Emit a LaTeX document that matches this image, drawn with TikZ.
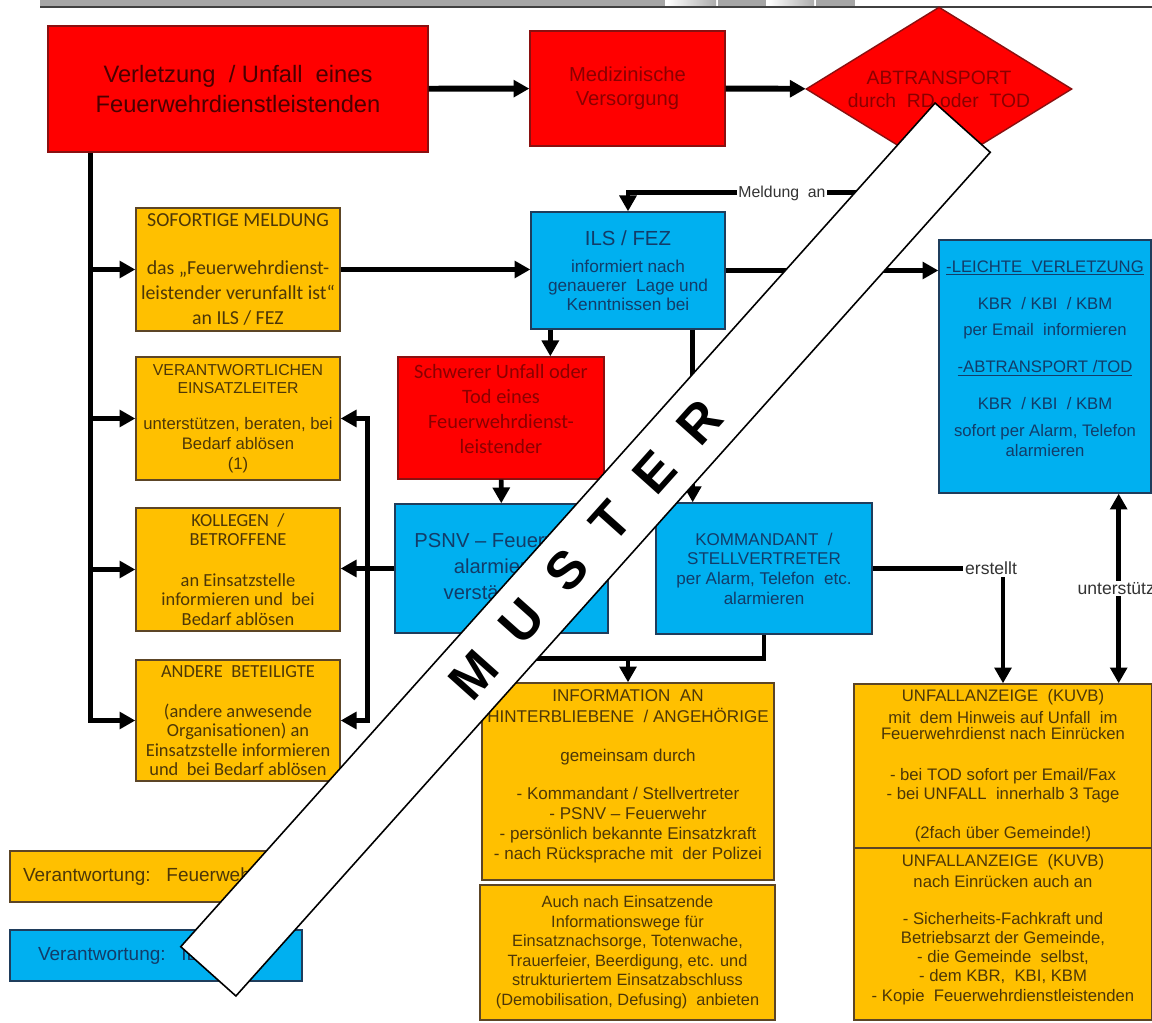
\documentclass[tikz,border=0pt]{standalone}
\usepackage{fontspec}
\setmainfont{Liberation Sans}
\newfontfamily\calibri{Carlito}
\usetikzlibrary{arrows.meta,shapes.geometric,calc}

\definecolor{rot}{HTML}{FF0000}
\definecolor{rotrand}{HTML}{8A1010}
\definecolor{rottext}{HTML}{4A0000}
\definecolor{rotschrift}{HTML}{8A0000}
\definecolor{gelb}{HTML}{FFC000}
\definecolor{gelbrand}{HTML}{5C4526}
\definecolor{gelbtext}{HTML}{4D3708}
\definecolor{blau}{HTML}{00B0F0}
\definecolor{blaurand}{HTML}{1F3D5C}
\definecolor{blautext}{HTML}{123C69}

\tikzset{
  rotbox/.style={rectangle, fill=rot, draw=rotrand, line width=0.8pt, text=rottext, align=center, inner sep=0pt},
  gelbbox/.style={rectangle, fill=gelb, draw=gelbrand, line width=0.8pt, text=gelbtext, align=center, inner sep=0pt},
  blaubox/.style={rectangle, fill=blau, draw=blaurand, line width=0.8pt, text=blautext, align=center, inner sep=0pt},
  linie/.style={line width=2.6pt},
  pfeil/.style={linie, -{Triangle[length=9pt,width=9.5pt]}},
  dpfeil/.style={linie, {Triangle[length=9pt,width=9.5pt]}-{Triangle[length=9pt,width=9.5pt]}},
  beschriftung/.style={fill=white, inner sep=1pt, text=black!80, font=\fontsize{10}{12}\selectfont},
}

\begin{document}
\begin{tikzpicture}[x=0.02cm, y=-0.02cm]

	\useasboundingbox (0,0) rectangle (1152,1023);
	\fill[white] (0,0) rectangle (1152,1023);

	% Kopfleiste
	\fill[gray!70] (40,0) rectangle (665,7);
	\shade[left color=white, right color=gray!65] (667,0) rectangle (716,7);
	\fill[gray!70] (718,0) rectangle (766,7);
	\shade[left color=white, right color=gray!65] (768,0) rectangle (814,7);
	\fill[gray!70] (816,0) rectangle (855,7);
	\draw[black!75, line width=0.6pt] (40,7) -- (1152,7);

	% obere Reihe
	\node[rotbox, minimum width=7.6cm, minimum height=2.52cm, font=\fontsize{13.5}{17}\selectfont] (unfall) at (238,89)
		{Verletzung \ / Unfall \ eines\\Feuerwehrdienstleistenden};
	\node[rotbox, text=rotschrift, minimum width=3.9cm, minimum height=2.3cm, font=\fontsize{11.5}{13.6}\selectfont] (medizin) at (627.5,88.5)
		{Medizinische\\Versorgung};
	\node[rotbox, diamond, aspect=1.62, text=rotschrift, minimum width=5.32cm, minimum height=3.28cm, font=\fontsize{11}{13}\selectfont] (abtransport) at (939,89)
		{ABTRANSPORT\\durch \ RD oder \ TOD};

	% linke Spalte
	\node[gelbbox, minimum width=4.08cm, minimum height=2.46cm, font=\calibri\fontsize{11.3}{14.2}\selectfont] (sofort) at (238,269.5)
		{SOFORTIGE MELDUNG\\[13pt]das „Feuerwehrdienst-\\leistender verunfallt ist“\\an ILS / FEZ};
	\node[gelbbox, minimum width=4.08cm, minimum height=2.46cm, font=\fontsize{9.5}{11.3}\selectfont] (verantw) at (238,418.5)
		{{\fontsize{9}{10}\selectfont VERANTWORTLICHEN}\\[-1pt]{\fontsize{9}{10}\selectfont EINSATZLEITER}\\[9pt]unterstützen, beraten, bei\\Bedarf ablösen\\(1)};
	\node[gelbbox, minimum width=4.08cm, minimum height=2.46cm, font=\calibri\fontsize{10.5}{11}\selectfont] (kollegen) at (238,569.5)
		{KOLLEGEN \ /\\BETROFFENE\\[12pt]an Einsatzstelle\\informieren und \ bei\\Bedarf ablösen};
	\node[gelbbox, minimum width=4.08cm, minimum height=2.42cm, font=\calibri\fontsize{10.5}{11}\selectfont] (andere) at (238,720.5)
		{ANDERE \ BETEILIGTE\\[12pt](andere anwesende\\Organisationen) an\\Einsatzstelle informieren\\und \ bei Bedarf ablösen};

	% Mitte
	\node[blaubox, minimum width=3.88cm, minimum height=2.34cm, font=\fontsize{9.8}{10.8}\selectfont] (ils) at (628,270.5)
		{{\fontsize{11.6}{13}\selectfont ILS / FEZ}\\[4.5pt]informiert nach\\genauerer \ Lage und\\Kenntnissen bei};
	\node[rotbox, text=rotschrift, minimum width=4.12cm, minimum height=2.44cm, font=\calibri\fontsize{11.6}{14.2}\selectfont] (schwer) at (501,418)
		{Schwerer Unfall oder\\Tod eines\\Feuerwehrdienst-\\leistender\\[-4pt]\mbox{}};
	\node[blaubox, minimum width=4.26cm, minimum height=2.58cm, font=\fontsize{11.5}{14.7}\selectfont] (psnv) at (501.5,568.5)
		{PSNV – Feuerwehr\\alarmieren\\verständigen};
	\node[blaubox, minimum width=4.32cm, minimum height=2.62cm, font=\fontsize{9.7}{11.2}\selectfont] (komm) at (764,568.5)
		{KOMMANDANT \ /\\STELLVERTRETER\\per Alarm, Telefon \ etc.\\alarmieren};
	\node[blaubox, minimum width=4.24cm, minimum height=5.06cm, font=\fontsize{9.5}{11.3}\selectfont] (leicht) at (1045,366.5)
		{\underline{-LEICHTE \ VERLETZUNG}\\[10pt]KBR \ / KBI \ / KBM\\[3.4pt]per Email \ informieren\\[10pt]\underline{-ABTRANSPORT /TOD}\\[9.5pt]KBR \ / KBI \ / KBM\\[4pt]sofort per Alarm, Telefon\\alarmieren\\[-2pt]\mbox{}};

	% untere Reihe
	\node[gelbbox, minimum width=5.84cm, minimum height=3.94cm, font=\fontsize{9.7}{11.3}\selectfont] (info) at (628,781.5)
		{INFORMATION \ AN\\[0.6pt]HINTERBLIEBENE \ / ANGEHÖRIGE\\[11.4pt]gemeinsam durch\\[10.2pt]- Kommandant / Stellvertreter\\- PSNV – Feuerwehr\\- persönlich bekannte Einsatzkraft\\- nach Rücksprache mit \ der Polizei\\[-3pt]\mbox{}};
	\node[gelbbox, minimum width=5.9cm, minimum height=2.7cm, font=\fontsize{9.3}{11.1}\selectfont] (nachsorge) at (627.5,952.5)
		{Auch nach Einsatzende\\Informationswege für\\Einsatznachsorge, Totenwache,\\Trauerfeier, Beerdigung, etc. und\\strukturiertem Einsatzabschluss\\(Demobilisation, Defusing) \ anbieten};
	\node[gelbbox, minimum width=5.96cm, minimum height=3.28cm, font=\fontsize{9.5}{10.9}\selectfont] (anzeige) at (1003,766)
		{UNFALLANZEIGE \ (KUVB)\\[1.6pt]mit \ dem Hinweis auf Unfall \ im\\[-2pt]Feuerwehrdienst nach Einrücken\\[12.5pt]- bei TOD sofort per Email/Fax\\- bei UNFALL \ innerhalb 3 Tage\\[11.2pt](2fach über Gemeinde!)};
	\node[gelbbox, minimum width=5.96cm, minimum height=3.44cm, font=\fontsize{9.5}{10.9}\selectfont] (anzeigeb) at (1003,934)
		{UNFALLANZEIGE \ (KUVB)\\[1pt]nach Einrücken auch an\\[10pt]- Sicherheits-Fachkraft und\\Betriebsarzt der Gemeinde,\\- die Gemeinde \ selbst,\\- dem KBR, \ KBI, KBM\\- Kopie \ Feuerwehrdienstleistenden\\[-4pt]\mbox{}};

	% Legende
	\node[gelbbox, align=left, inner xsep=0.26cm, text width=4.78cm, minimum height=1.02cm, font=\fontsize{10.8}{13}\selectfont] (legfw) at (142.5,876.5)
		{Verantwortung: \ Feuerwehr};
	\node[blaubox, align=left, inner xsep=0.56cm, text width=4.72cm, minimum height=1.02cm, font=\fontsize{10.8}{13}\selectfont] (legils) at (156,955.5)
		{Verantwortung: \ ILS};

	% Verbindungen oben
	\draw[pfeil, line width=3.4pt] (unfall) -- (medizin);
	\draw[pfeil, line width=3.4pt] (medizin) -- (abtransport);
	\draw[pfeil] (abtransport.south) |- ([yshift=0.38cm]ils.north) -- (ils.north); %Meldung an
	\node[beschriftung, font=\fontsize{9}{11}\selectfont] (meldung) at (782,193) {Meldung \ an};

	% linke Sammelleitung
	\coordinate (busL) at ([xshift=0.86cm]unfall.south west);
	\draw[pfeil, line width=3.2pt] (busL) |- (andere.west);
	\foreach \ziel in {sofort,verantw,kollegen}
		\draw[pfeil, line width=3.2pt] (busL |- \ziel.west) -- (\ziel.west);

	\draw[pfeil] (sofort.east) -- (sofort.east -| ils.west);
	\draw[pfeil] (ils.east) -- (ils.east -| leicht.west);

	\coordinate (ilsA) at ([xshift=0.4cm]ils.south west);
	\coordinate (ilsB) at ([xshift=-0.66cm]ils.south east);
	\draw[pfeil] (ilsA) -- (ilsA |- schwer.north);
	\draw[pfeil] (ilsB) -- (ilsB |- komm.north);
	\draw[pfeil] (schwer) -- (psnv);

	% rechte Sammelleitung
	\coordinate (busR) at ([xshift=0.54cm]kollegen.east);
	\draw[pfeil] (psnv.west) -- (psnv.west -| kollegen.east);
	\draw[pfeil] (busR) |- (verantw.east);
	\draw[pfeil] (busR) |- (andere.east);

	% zu den Angehoerigen
	\coordinate (knick) at ([yshift=-0.48cm]komm.south);
	\draw[linie] (psnv.south) |- (knick) -- (komm.south);
	\draw[pfeil] (knick -| info.north) -- (info.north);

	% Unfallanzeige
	\coordinate (erst) at (komm.east -| anzeige.north);
	\draw[pfeil] (komm.east) -- (erst) -- (anzeige.north);
	\node[beschriftung] (erstellt) at ([xshift=-0.24cm]erst) {erstellt};
	\coordinate (unt) at ([xshift=-0.66cm]leicht.south east);
	\draw[dpfeil] (unt) -- (unt |- anzeige.north);
	\node[beschriftung] (unterst) at ($(unt)!0.5!(unt |- anzeige.north)$) {unterstützt};

	% Muster-Banderole
	\node[rotate=48.2, fill=white, draw=black, line width=0.9pt, minimum width=22.64cm, minimum height=1.48cm,
		font=\fontsize{30}{30}\selectfont\bfseries] (muster) at (585.5,549.5)
		{M\hspace{18pt}U\hspace{18pt}S\hspace{18pt}T\hspace{18pt}E\hspace{18pt}R};

\end{tikzpicture}
\end{document}
